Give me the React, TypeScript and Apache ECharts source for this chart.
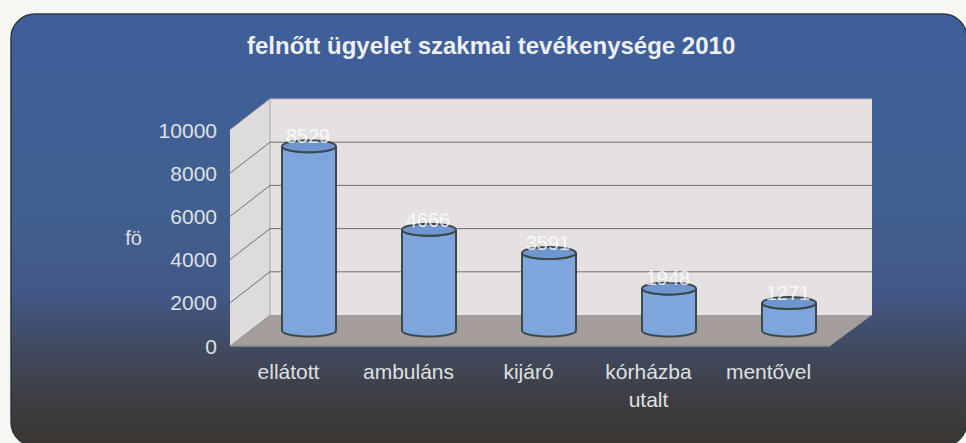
import React, { useEffect, useRef } from "react";
import * as echarts from "echarts";

const categories = ["ellátott", "ambuláns", "kijáró", "kórházba\nutalt", "mentővel"];
const values = [8529, 4666, 3591, 1948, 1271];
const ticks = [2000, 4000, 6000, 8000, 10000];

const FONT = "'Liberation Sans', Arial, sans-serif";
const DX = 40;
const DY = -31;
const RX = 27;
const RY = 6;

function renderWalls(params: any, api: any) {
  const c = params.coordSys;
  const b = c.y + c.height;
  const t = c.y;
  const l = c.x;
  const r = c.x + c.width;
  const poly = (points: number[][], fill: string) => ({ type: "polygon", shape: { points }, style: { fill } });
  return {
    type: "group",
    children: [
      poly([[l + DX, t + DY], [r + DX + 2, t + DY], [r + DX + 2, b + DY], [l + DX, b + DY]], "#e4e1e0"),
      poly([[l, t], [l + DX, t + DY], [l + DX, b + DY], [l, b]], "#dedcda"),
      poly([[l, b], [l + DX, b + DY], [r + DX + 2, b + DY], [r, b]], "#a59c9c"),
      { type: "line", shape: { x1: l, y1: b, x2: r, y2: b }, style: { stroke: "#8a8f8c", lineWidth: 1.5 } },
      { type: "line", shape: { x1: l + DX, y1: t + DY, x2: l + DX, y2: b + DY }, style: { stroke: "#a8a6a6", lineWidth: 1 } },
    ],
  };
}

function renderGridLine(params: any, api: any) {
  const c = params.coordSys;
  const p = api.coord([0, api.value(1)]);
  const y = p[1];
  const l = c.x;
  const r = c.x + c.width;
  const top = api.value(1) === 10000;
  const stroke = top ? "#cdb4b8" : "#736c6e";
  return {
    type: "polyline",
    shape: { points: [[l, y], [l + DX, y + DY], [r + DX + 2, y + DY]] },
    style: { stroke, lineWidth: 1, fill: "none" },
  };
}

function renderCylinder(params: any, api: any) {
  const top = api.coord([api.value(0), api.value(1)]);
  const base = api.coord([api.value(0), 0]);
  const cx = top[0] + DX / 2 - 1;
  const yTop = top[1] + DY / 2;
  const yBase = base[1] + DY / 2;
  const body = `M${cx - RX},${yTop} L${cx - RX},${yBase} A${RX},${RY} 0 0 0 ${cx + RX},${yBase} L${cx + RX},${yTop} A${RX},${RY} 0 0 1 ${cx - RX},${yTop} Z`;
  const stroke = "#3c4a4c";
  return {
    type: "group",
    children: [
      { type: "path", shape: { pathData: body }, style: { fill: "#7fa5dd", stroke, lineWidth: 2 } },
      { type: "ellipse", shape: { cx, cy: yTop, rx: RX, ry: RY }, style: { fill: "#7096cf", stroke, lineWidth: 2 } },
      {
        type: "text",
        style: {
          text: String(api.value(1)),
          x: cx - 1,
          y: yTop - 10,
          fill: "rgba(255,255,255,0.8)",
          font: `20px ${FONT}`,
          align: "center",
          verticalAlign: "middle",
        },
      },
    ],
  };
}

export default function App() {
  const ref = useRef<HTMLDivElement>(null);
  useEffect(() => {
    document.body.style.margin = "0";
    const chart = echarts.init(ref.current!, undefined, { renderer: "svg" });
    chart.setOption({
      animation: false,
      backgroundColor: "#f6f6f3",
      title: {
        text: "felnőtt ügyelet szakmai tevékenysége 2010",
        left: 242,
        top: 28,
        textStyle: { color: "#eef0f5", fontFamily: FONT, fontWeight: "bold", fontSize: 24 },
      },
      graphic: [
        {
          type: "rect",
          z: -10,
          shape: { x: 11, y: 14, width: 956, height: 432, r: 24 },
          style: {
            stroke: "#2d3a3c",
            lineWidth: 1.5,
            fill: {
              type: "linear", x: 0, y: 0, x2: 0, y2: 1,
              colorStops: [
                { offset: 0, color: "#3f5f9b" },
                { offset: 0.45, color: "#40608f" },
                { offset: 0.65, color: "#425786" },
                { offset: 0.78, color: "#404a5e" },
                { offset: 0.88, color: "#3e3f45" },
                { offset: 1, color: "#3a3531" },
              ],
            },
          },
        },
      ],
      grid: { left: 230, right: 136, top: 130, bottom: 97 },
      xAxis: {
        type: "category",
        data: categories,
        axisLine: { show: false },
        axisTick: { show: false },
        axisLabel: { color: "#dfe0e2", fontFamily: FONT, fontSize: 21, margin: 11, lineHeight: 28, interval: 0, padding: [0, 3, 0, 0] },
      },
      yAxis: {
        type: "value",
        min: 0,
        max: 10000,
        interval: 2000,
        name: "fö",
        nameLocation: "middle",
        nameRotate: 0,
        nameGap: 88,
        nameTextStyle: { color: "#dfe0e2", fontFamily: FONT, fontSize: 20 },
        axisLine: { show: false },
        axisTick: { show: false },
        splitLine: { show: false },
        axisLabel: {
          color: "#dfe0e2",
          fontFamily: FONT,
          fontSize: 21,
          margin: 13,
          padding: [0, 0, 7, 0],
          formatter: (v: number) => String(v),
        },
      },
      series: [
        { type: "custom", name: "walls", z: 1, silent: true, data: [[0, 0]], renderItem: renderWalls },
        { type: "custom", name: "grid", z: 2, silent: true, data: ticks.map((t) => [0, t]), renderItem: renderGridLine },
        { type: "custom", name: "ellátás", z: 3, data: values.map((v, i) => [i, v]), renderItem: renderCylinder },
      ],
    });
    return () => chart.dispose();
  }, []);
  return <div ref={ref} style={{ position: "absolute", left: 0, top: 0, width: 966, height: 443 }} />;
}
